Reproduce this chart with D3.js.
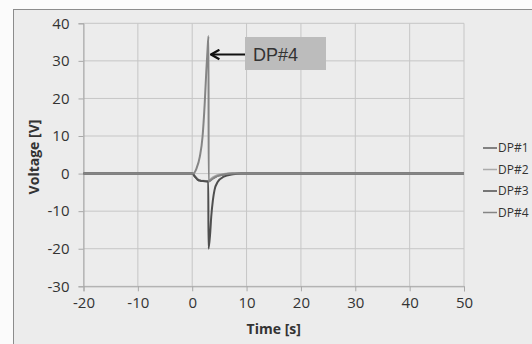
<!DOCTYPE html>
<meta charset="utf-8">
<style>
body { margin: 0; background: #fbfbfb; }
text { font-family: "Open Sans", sans-serif; fill: #333; }
</style>
<body>
<div id="chart"></div>
</body>
<script src="https://cdn.jsdelivr.net/npm/d3@7"></script>
<script>

// series (time in s, voltage in V)
var seriesNames = ["DP#1", "DP#2", "DP#3", "DP#4"];
var seriesColors = ["#5e5e5e", "#ababab", "#4f4f4f", "#858585"];

var t1 = [-20, 0, 0.5, 1.0, 1.5, 2.0, 3.0, 3.4, 3.8, 4.4, 5.1, 6.0, 7.5, 50];
var v1 = [0, 0, -0.8, -1.6, -1.9, -2.0, -2.1, -1.7, -1.3, -0.8, -0.45, -0.15, 0, 0];

var t2 = [-20, 0, 0.5, 1.0, 1.5, 2.0, 3.0, 3.4, 3.8, 4.4, 5.1, 5.8, 6.5, 50];
var v2 = [0, 0, -0.7, -1.5, -1.8, -1.9, -2.0, -1.5, -1.0, -0.55, -0.25, -0.08, 0, 0];

var t3 = [-20, 0, 0.5, 1.0, 1.5, 2.0, 2.95, 3.0, 3.3, 3.5, 3.8, 4.1, 4.7, 5.7, 7.5, 9.0, 50];
var v3 = [0, 0, -0.8, -1.6, -1.9, -2.0, -2.1, -20, -16, -11.5, -7.1, -4.4, -2.2, -0.9, -0.2, 0, 0];

var t4 = [-20, 0.15, 0.8, 1.4, 1.9, 2.3, 2.6, 2.8, 3.0, 3.02, 3.8, 4.4, 5.1, 6.0, 7.5, 50];
var v4 = [0, 0, 1.4, 4.5, 9.8, 18.7, 27.5, 32.5, 36.6, -2.1, -1.3, -0.8, -0.45, -0.15, 0, 0];

var seriesT = [t1, t2, t3, t4];
var seriesV = [v1, v2, v3, v4];

var xTicks = [-20, -10, 0, 10, 20, 30, 40, 50];
var yTicks = [-30, -20, -10, 0, 10, 20, 30, 40];

var width = 532, height = 344;

var x = d3.scaleLinear().domain([-20, 50]).range([83.5, 464]);
var y = d3.scaleLinear().domain([-30, 40]).range([286.3, 23.3]);

var svg = d3.select("#chart").append("svg")
    .attr("width", width)
    .attr("height", height);

// chart area with its border (cropped at right and bottom)
svg.append("rect")
    .attr("x", 13.5).attr("y", 9.5)
    .attr("width", width).attr("height", height)
    .attr("fill", "#ececec")
    .attr("stroke", "#8c8c8c")
    .attr("stroke-width", 1);

// grid
svg.append("g").selectAll("line")
    .data(yTicks)
    .enter().append("line")
    .attr("x1", x(-20)).attr("x2", x(50))
    .attr("y1", function(d) { return y(d); })
    .attr("y2", function(d) { return y(d); })
    .attr("stroke", "#c6c6c6");

svg.append("g").selectAll("line")
    .data(xTicks)
    .enter().append("line")
    .attr("y1", y(40)).attr("y2", y(-30))
    .attr("x1", function(d) { return x(d); })
    .attr("x2", function(d) { return x(d); })
    .attr("stroke", "#c6c6c6");

// axes (plain hyphen for negatives, like the original)
var fmt = function(d) { return String(d); };

var xAxis = svg.append("g")
    .attr("transform", "translate(0," + y(-30) + ")")
    .call(d3.axisBottom(x).tickValues(xTicks).tickFormat(fmt).tickSize(5).tickPadding(6));

var yAxis = svg.append("g")
    .attr("transform", "translate(" + x(-20) + ",0)")
    .call(d3.axisLeft(y).tickValues(yTicks).tickFormat(fmt).tickSize(5).tickPadding(9));

[xAxis, yAxis].forEach(function(a) {
    a.select(".domain").attr("stroke", "#a8a8a8");
    a.selectAll(".tick line").attr("stroke", "#a8a8a8");
    a.selectAll(".tick text")
        .style("font-size", "15px")
        .style("font-family", "'Open Sans', sans-serif")
        .attr("fill", "#333");
});

// lines
var line = d3.line()
    .x(function(d) { return x(d[0]); })
    .y(function(d) { return y(d[1]); })
    .curve(d3.curveMonotoneX);

seriesNames.forEach(function(name, i) {
    var pts = seriesT[i].map(function(t, j) { return [t, seriesV[i][j]]; });
    svg.append("path")
        .datum(pts)
        .attr("fill", "none")
        .attr("stroke", seriesColors[i])
        .attr("stroke-width", 2)
        .attr("d", line);
});

// axis titles
svg.append("text")
    .attr("x", x(15)).attr("y", 334)
    .attr("text-anchor", "middle")
    .style("font-size", "14px")
    .style("font-weight", "bold")
    .text("Time [s]");

svg.append("text")
    .attr("transform", "translate(39,157) rotate(-90)")
    .attr("text-anchor", "middle")
    .style("font-size", "14px")
    .style("font-weight", "bold")
    .text("Voltage [V]");

// legend
var legend = svg.append("g").selectAll("g")
    .data(seriesNames)
    .enter().append("g")
    .attr("transform", function(d, i) { return "translate(483," + (152 + i * 21.5) + ")"; });

legend.append("line")
    .attr("x1", 0).attr("x2", 14)
    .attr("y1", -4).attr("y2", -4)
    .attr("stroke", function(d, i) { return seriesColors[i]; })
    .attr("stroke-width", 1.5);

legend.append("text")
    .attr("x", 15)
    .style("font-size", "12px")
    .text(function(d) { return d; });

// annotation
svg.append("defs").append("marker")
    .attr("id", "arrow")
    .attr("viewBox", "0 0 10 10")
    .attr("refX", 9).attr("refY", 5)
    .attr("markerWidth", 12).attr("markerHeight", 12)
    .attr("markerUnits", "userSpaceOnUse")
    .attr("orient", "auto")
    .append("path")
    .attr("d", "M2,1 L9,5 L2,9")
    .attr("fill", "none")
    .attr("stroke", "#111")
    .attr("stroke-width", 1.8);

svg.append("rect")
    .attr("x", 245).attr("y", 37)
    .attr("width", 81).attr("height", 33)
    .attr("fill", "#bcbcbc");

svg.append("line")
    .attr("x1", 245).attr("y1", 54.5)
    .attr("x2", 211).attr("y2", 54.5)
    .attr("stroke", "#111")
    .attr("stroke-width", 2)
    .attr("marker-end", "url(#arrow)");

svg.append("text")
    .attr("x", 253).attr("y", 61)
    .style("font-family", "'Liberation Sans', Arial, sans-serif")
    .style("font-size", "18px")
    .attr("fill", "#222")
    .text("DP#4");

</script>
